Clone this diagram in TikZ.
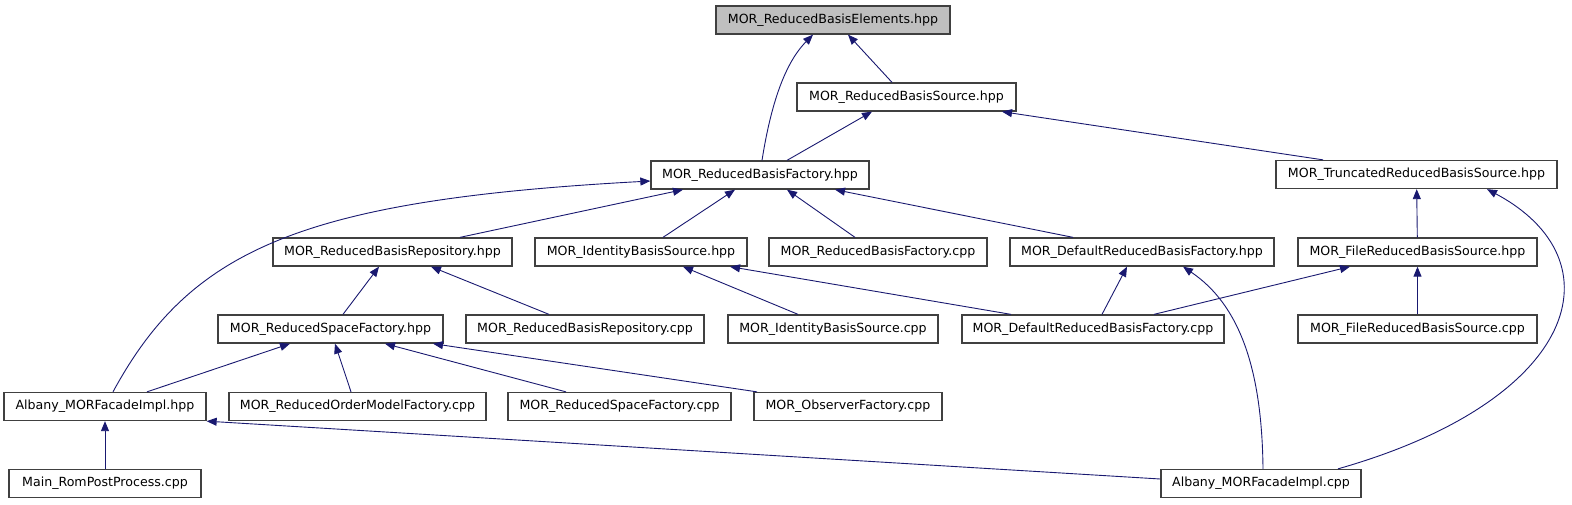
\documentclass[tikz,border=0pt]{standalone}
\usepackage{fontspec}
\setmainfont{DejaVu Sans}
\usepackage{tikz}
\usetikzlibrary{arrows.meta,calc}
\definecolor{navy}{HTML}{191970}
\definecolor{boxline}{HTML}{404040}
\definecolor{boxgray}{HTML}{BFBFBF}
\tikzset{
  >={Triangle[length=10pt,width=8pt]},
  fb/.style={rectangle,draw=boxline,line width=1.3pt,minimum height=28pt,inner sep=0pt,
    font=\fontsize{12.6}{15}\selectfont},
  hl/.style={fb,fill=boxgray},
  ed/.style={->,draw=navy,line width=0.9pt},
}
\begin{document}
\begin{tikzpicture}[x=1pt,y=-1pt]
\useasboundingbox (0,0) rectangle (1572,504);
\node[hl,minimum width=234pt] (rbe) at (833,20){MOR\_ReducedBasisElements.hpp};
\node[fb,minimum width=219pt] (rbs) at (906.5,97){MOR\_ReducedBasisSource.hpp};
\node[fb,minimum width=218pt] (rbf) at (760,175){MOR\_ReducedBasisFactory.hpp};
\node[fb,minimum width=281pt] (trbs) at (1416.5,174.5){MOR\_TruncatedReducedBasisSource.hpp};
\node[fb,minimum width=239pt] (rbrh) at (392.5,252){MOR\_ReducedBasisRepository.hpp};
\node[fb,minimum width=212pt] (ibsh) at (641,252){MOR\_IdentityBasisSource.hpp};
\node[fb,minimum width=218pt] (rbfc) at (878,252){MOR\_ReducedBasisFactory.cpp};
\node[fb,minimum width=264pt] (drbfh) at (1142,252){MOR\_DefaultReducedBasisFactory.hpp};
\node[fb,minimum width=239pt] (frbsh) at (1417.5,252){MOR\_FileReducedBasisSource.hpp};
\node[fb,minimum width=225pt] (rsfh) at (330.5,329){MOR\_ReducedSpaceFactory.hpp};
\node[fb,minimum width=238pt] (rbrc) at (585,329){MOR\_ReducedBasisRepository.cpp};
\node[fb,minimum width=210pt] (ibsc) at (833,329){MOR\_IdentityBasisSource.cpp};
\node[fb,minimum width=262pt] (drbfc) at (1093,329){MOR\_DefaultReducedBasisFactory.cpp};
\node[fb,minimum width=239pt] (frbsc) at (1417.5,329){MOR\_FileReducedBasisSource.cpp};
\node[fb,minimum width=202pt] (amfih) at (105,406.5){Albany\_MORFacadeImpl.hpp};
\node[fb,minimum width=257pt] (romfc) at (357.5,406.5){MOR\_ReducedOrderModelFactory.cpp};
\node[fb,minimum width=223pt] (rsfc) at (619.5,406.5){MOR\_ReducedSpaceFactory.cpp};
\node[fb,minimum width=188pt] (ofc) at (848,406.5){MOR\_ObserverFactory.cpp};
\node[fb,minimum width=192pt] (mrpp) at (105,483.5){Main\_RomPostProcess.cpp};
\node[fb,minimum width=200pt] (amfic) at (1261,483.5){Albany\_MORFacadeImpl.cpp};
% includes of the top header
\draw[ed] ([xshift=2pt]rbf.north) .. controls (770,110) and (783,65) .. ([xshift=-20pt]rbe.south);
\draw[ed] ([xshift=-14.5pt]rbs.north) -- ([xshift=15pt]rbe.south);
\draw[ed] ([xshift=27pt]rbf.north) -- ([xshift=-34.5pt]rbs.south);
\draw[ed] ([xshift=-93.5pt]trbs.north) -- ([xshift=95.5pt]rbs.south);
% second level
\draw[ed] ([xshift=67.5pt]rbrh.north) -- ([xshift=-77pt]rbf.south);
\draw[ed] ([xshift=22pt]ibsh.north) -- ([xshift=-25pt]rbf.south);
\draw[ed] ([xshift=-23pt]rbfc.north) -- ([xshift=27pt]rbf.south);
\draw[ed] ([xshift=-69pt]drbfh.north) -- ([xshift=75pt]rbf.south);
\draw[ed] ([xshift=8pt]amfih.north) .. controls (190,250) and (300,200) .. ([yshift=-6pt]rbf.west);
\draw[ed] (frbsh) -- (trbs);
\draw[ed] (frbsc) -- (frbsh);
\draw[ed] ([xshift=77pt]amfic.north) .. controls (1580,400) and (1620,260) .. ([xshift=70.5pt]trbs.south);
% third level
\draw[ed] ([xshift=12.5pt]rsfh.north) -- ([xshift=-13.5pt]rbrh.south);
\draw[ed] ([xshift=-36pt]rbrc.north) -- ([xshift=38.5pt]rbrh.south);
\draw[ed] ([xshift=-82pt]drbfc.north) -- ([xshift=89pt]ibsh.south);
\draw[ed] ([xshift=-35pt]ibsc.north) -- ([xshift=42pt]ibsh.south);
\draw[ed] ([xshift=9pt]drbfc.north) -- ([xshift=-15pt]drbfh.south);
\draw[ed] ([xshift=2pt]amfic.north) .. controls (1262,370) and (1240,305) .. ([xshift=41pt]drbfh.south);
\draw[ed] ([xshift=61pt]drbfc.north) -- ([xshift=-67.5pt]frbsh.south);
% space factory and facade
\draw[ed] ([xshift=42pt]amfih.north) -- ([xshift=-40.5pt]rsfh.south);
\draw[ed] ([xshift=-6.5pt]romfc.north) -- ([xshift=4.5pt]rsfh.south);
\draw[ed] ([xshift=-53.5pt]rsfc.north) -- ([xshift=54.5pt]rsfh.south);
\draw[ed] ([xshift=-91pt]ofc.north) -- ([xshift=102.5pt]rsfh.south);
\draw[ed] (mrpp) -- (amfih);
\draw[ed] ([yshift=4.5pt]amfic.west) -- (amfih.south east);
\end{tikzpicture}
\end{document}
